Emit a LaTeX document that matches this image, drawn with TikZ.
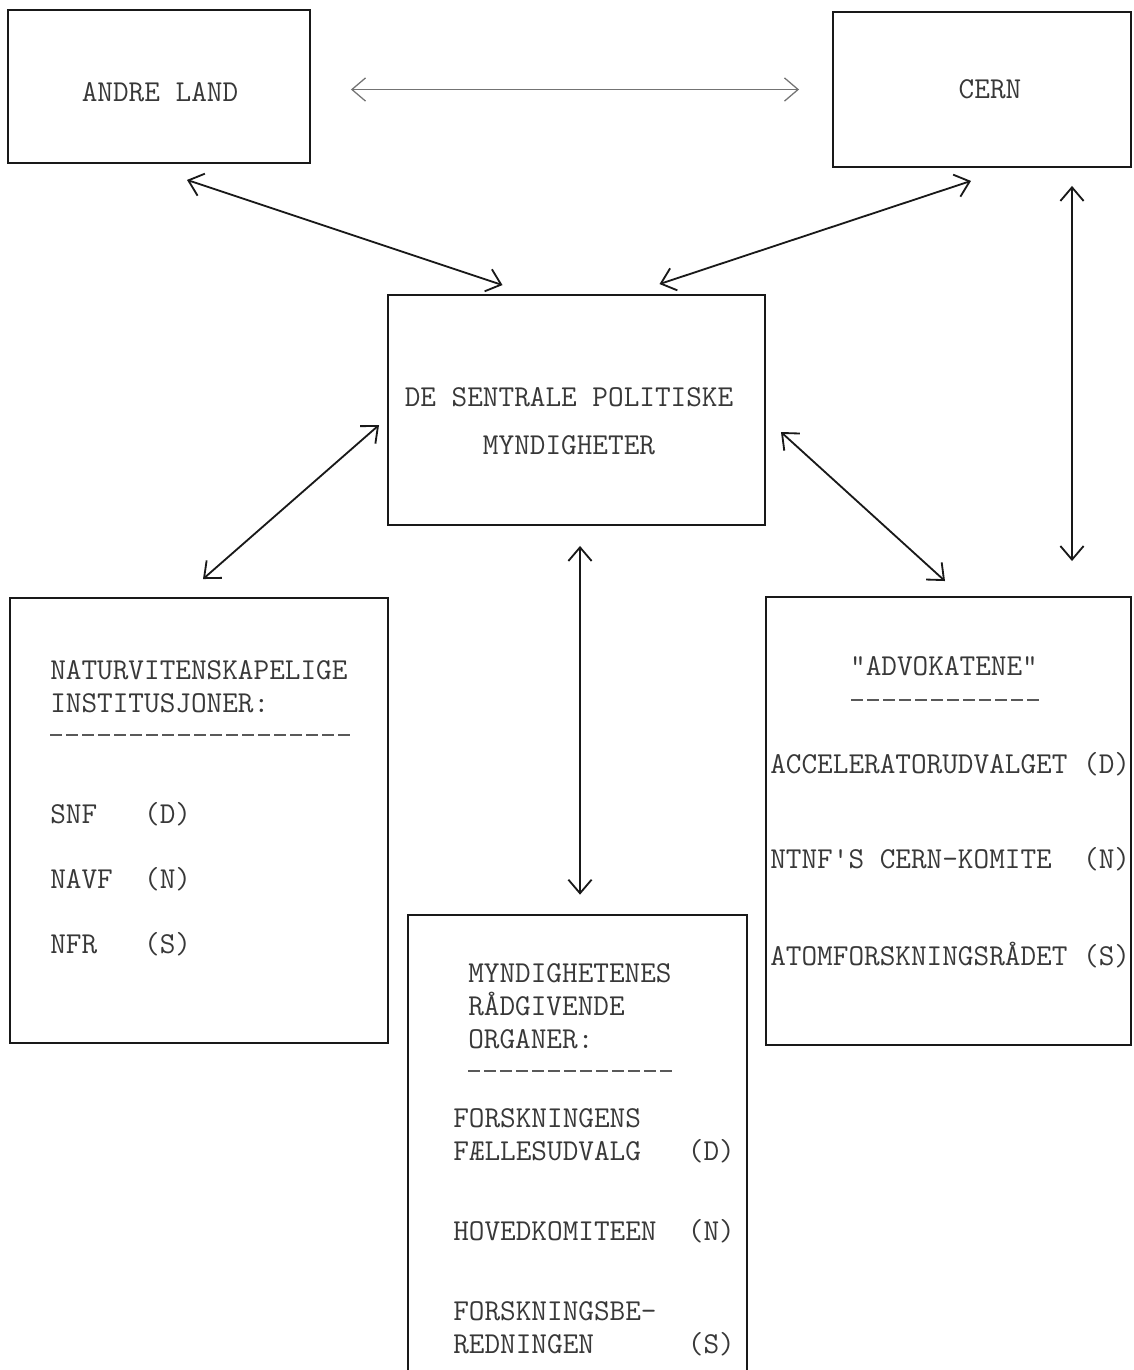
\documentclass[tikz,border=0pt]{standalone}
\usepackage{fontspec}
\setmonofont{Latin Modern Mono}
\usetikzlibrary{arrows.meta,calc}

\tikzset{
  box/.style={draw=black!90, line width=1.3pt, inner sep=0pt},
  link/.style={{Straight Barb[length=3.4mm,width=5.8mm]}-{Straight Barb[length=3.4mm,width=5.8mm]}, line width=1.3pt, draw=black!90},
  typed/.style={font=\ttfamily\fontsize{21.6}{26}\selectfont, text=black!78, inner sep=0pt, anchor=base west},
  typedrule/.style={line width=1.4pt, draw=black!65, dash pattern=on 0.31cm off 0.09cm},
}

\begin{document}
\begin{tikzpicture}[x=0.025cm, y=-0.025cm]
    \useasboundingbox (0,0) rectangle (1133,1370);
    % boxes:
    \node[box, minimum width=7.55cm, minimum height=3.825cm] (andre) at (159,86.5) {};
    \node[box, minimum width=7.45cm, minimum height=3.875cm] (cern) at (982,89.5) {};
    \node[box, minimum width=9.425cm, minimum height=5.75cm] (sentral) at (576.5,410) {};
    \node[box, minimum width=9.45cm, minimum height=11.125cm] (natur) at (199,820.5) {};
    \node[box, minimum width=9.125cm, minimum height=11.2cm] (advokat) at (948.5,821) {};
    \node[inner sep=0pt, minimum width=8.475cm, minimum height=11.375cm] (organ) at (577.5,1142.5) {};
    \draw[box] (organ.south west) |- (organ.north east) -- (organ.south east);
    % texts:
    \node[typed, anchor=base] (andre-txt) at (160,101) {ANDRE LAND};
    \node[typed, anchor=base] (cern-txt) at (990,98) {CERN};
    \node[typed, anchor=base] (sentral-l1) at (569,406) {DE SENTRALE POLITISKE};
    \node[typed, anchor=base] (sentral-l2) at (569,454) {MYNDIGHETER};
    \node[typed] (natur-l1) at (50,679) {NATURVITENSKAPELIGE};
    \node[typed] (natur-l2) at (50,712) {INSTITUSJONER:};
    \draw[typedrule] (50,735) -- (350,735);
    \node[typed] (snf) at (50,823) {SNF~~~(D)};
    \node[typed] (navf) at (50,888) {NAVF~~(N)};
    \node[typed] (nfr) at (50,953) {NFR~~~(S)};
    \node[typed, anchor=base] (advokat-l1) at (944,675) {"ADVOKATENE"};
    \draw[typedrule] (851,700) -- (1039,700);
    \node[typed] (accel) at (770,773) {ACCELERATORUDVALGET~(D)};
    \node[typed] (ntnf) at (770,868) {NTNF'S CERN-KOMITE~~(N)};
    \node[typed] (atom) at (770,965) {ATOMFORSKNINGSRÅDET~(S)};
    \node[typed] (organ-l1) at (468,982) {MYNDIGHETENES};
    \node[typed] (organ-l2) at (468,1015) {RÅDGIVENDE};
    \node[typed] (organ-l3) at (468,1048) {ORGANER:};
    \draw[typedrule] (468,1071) -- (672,1071);
    \node[typed] (fellu-1) at (453,1127) {FORSKNINGENS};
    \node[typed] (fellu-2) at (453,1160) {FÆLLESUDVALG~~~(D)};
    \node[typed] (hoved) at (453,1240) {HOVEDKOMITEEN~~(N)};
    \node[typed] (bered-1) at (453,1320) {FORSKNINGSBE-};
    \node[typed] (bered-2) at (453,1353) {REDNINGEN~~~~~~(S)};
    % arrows:
    \draw[link, draw=black!55, line width=0.9pt] ($(andre.east)+(40,3)$) -- ($(cern.west)+(-33,0)$);
    \draw[link] ($(andre.south)+(28,16)$) -- ($(sentral.north)+(-74,-9)$);
    \draw[link] ($(cern.south)+(-11,13)$) -- ($(sentral.north)+(83,-10)$);
    \draw[link] ($(cern.south)+(90,18)$) -- ($(advokat.north)+(123.5,-35)$);
    \draw[link] ($(sentral.west)+(-8,15)$) -- ($(natur.north)+(4,-18)$);
    \draw[link] ($(sentral.east)+(15,22)$) -- ($(advokat.north)+(-3.5,-15)$);
    \draw[link] ($(sentral.south)+(3.5,20)$) -- ($(organ.north)+(2.5,-20)$);
\end{tikzpicture}
\end{document}
